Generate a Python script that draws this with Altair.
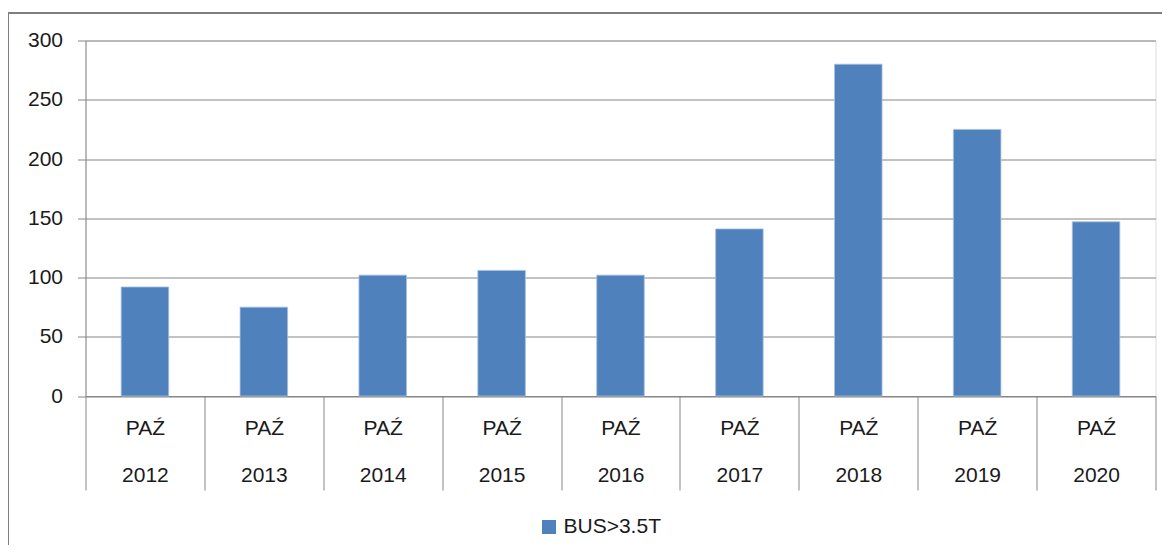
import altair as alt
import pandas as pd

months = ["PAŹ"] * 9
years = ["2012", "2013", "2014", "2015", "2016", "2017", "2018", "2019", "2020"]
values = [92, 75, 102, 106, 102, 141, 280, 225, 147]
series = "BUS>3.5T"

df = pd.DataFrame({"month": months, "year": years, "value": values, "series": [series] * len(years)})

FONT = "Liberation Sans"
GRID = "#868686"

bars = alt.Chart(df).mark_bar(
    stroke="#A9C0DE", strokeWidth=0.8, width=alt.RelativeBandSize(0.4)
).encode(
    x=alt.X(
        "year:N",
        sort=years,
        title=None,
        scale=alt.Scale(paddingInner=0, paddingOuter=0),
        axis=alt.Axis(
            labelAngle=0,
            labelExpr="datum.label ? ['PAŹ', datum.label] : ''",
            labelLineHeight=47,
            labelFont=FONT,
            labelFontSize=21,
            labelColor="#1a1a1a",
            labelPadding=-73,
            tickBand="extent",
            tickSize=94,
            tickColor=GRID,
            domainColor=GRID,
            domainWidth=1,
            tickWidth=1,
            grid=False,
        ),
    ),
    y=alt.Y(
        "value:Q",
        title=None,
        scale=alt.Scale(domain=[0, 300], nice=False),
        axis=alt.Axis(
            values=[0, 50, 100, 150, 200, 250, 300],
            labelFont=FONT,
            labelFontSize=21,
            labelColor="#1a1a1a",
            labelPadding=15,
            tickSize=8,
            tickColor=GRID,
            domainColor=GRID,
            gridColor=GRID,
            gridWidth=1,
            grid=True,
        ),
    ),
    color=alt.Color(
        "series:N",
        scale=alt.Scale(domain=[series], range=["#4F81BD"]),
        legend=alt.Legend(
            title=None,
            orient="none",
            legendX=453,
            legendY=476,
            symbolType="square",
            symbolSize=196,
            symbolStrokeWidth=0,
            labelFont=FONT,
            labelFontSize=21,
            labelColor="#1a1a1a",
            padding=0,
            labelOffset=4,
        ),
    ),
)

border = alt.Chart(pd.DataFrame({"b": [0]})).mark_rect(
    fill=None, stroke="#7F7F7F", strokeWidth=2, clip=False
).encode(
    x=alt.value(-77.5),
    x2=alt.value(1200),
    y=alt.value(-27.5),
    y2=alt.value(600),
)

chart = alt.layer(bars, border).properties(
    width=1070,
    height=355.5,
    autosize=alt.AutoSizeParams(type="none"),
    padding={"left": 77.5, "top": 32.5, "right": 6.5, "bottom": 149},
).configure_view(stroke=None).configure(background="white")

chart.save("out.html", embed_options={"renderer": "svg", "actions": False})
